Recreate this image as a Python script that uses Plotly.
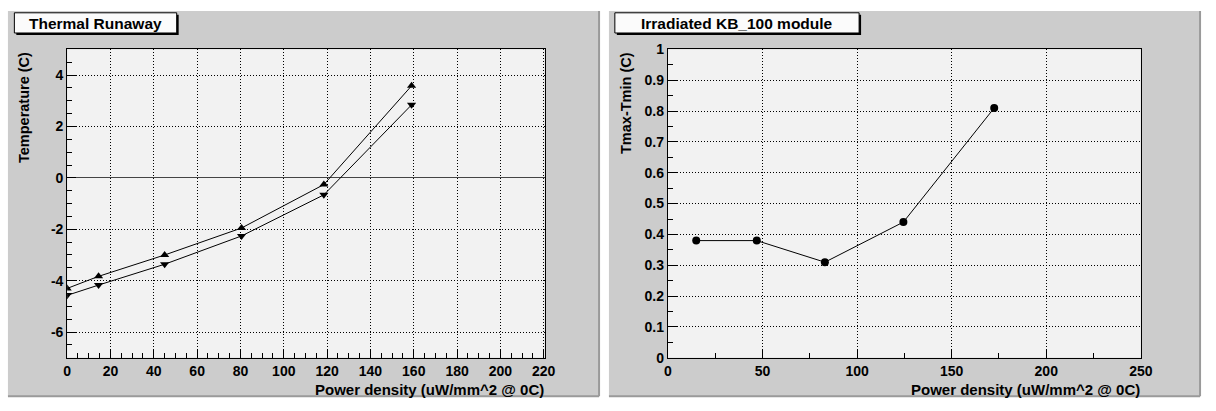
import plotly.graph_objects as go

# ---- data ----
power_left = [0, 14.5, 45, 80.5, 118.5, 159]
temp_up = [-4.3, -3.83, -3.0, -1.95, -0.26, 3.58]
temp_down = [-4.57, -4.17, -3.36, -2.26, -0.66, 2.84]

power_right = [15, 47, 83, 124.5, 172.5]
delta_t = [0.38, 0.38, 0.31, 0.44, 0.81]

xticks_left = [0, 20, 40, 60, 80, 100, 120, 140, 160, 180, 200, 220]
yticks_left = [-6, -4, -2, 0, 2, 4]
xticks_right = [0, 50, 100, 150, 200, 250]
yticks_right = [0, 0.1, 0.2, 0.3, 0.4, 0.5, 0.6, 0.7, 0.8, 0.9, 1]

title_left = "Thermal Runaway"
title_right = "Irradiated KB_100 module"
xlabel = "Power density (uW/mm^2 @ 0C)"
ylabel_left = "Temperature (C)"
ylabel_right = "Tmax-Tmin (C)"

W, H = 1216, 411
FONT = "Liberation Sans"


def px(x):
    return x / W


def py(y):
    return 1 - y / H


def lab(v):
    return "<b>" + ("%g" % v) + "</b>"


# plot areas in pixels
L = (64, 548)
R = (672.7, 1152)
TOP, BOT = 43, 364

fig = go.Figure()
fig.add_trace(go.Scatter(x=power_left, y=temp_up, mode="lines+markers",
                         line=dict(color="black", width=1),
                         marker=dict(symbol="triangle-up", size=8, color="black"),
                         xaxis="x", yaxis="y", showlegend=False))
fig.add_trace(go.Scatter(x=power_left, y=temp_down, mode="lines+markers",
                         line=dict(color="black", width=1),
                         marker=dict(symbol="triangle-down", size=8, color="black"),
                         xaxis="x", yaxis="y", showlegend=False))
fig.add_trace(go.Scatter(x=power_right, y=delta_t, mode="lines+markers",
                         line=dict(color="black", width=1),
                         marker=dict(symbol="circle", size=8, color="black"),
                         xaxis="x2", yaxis="y2", showlegend=False))

tickfont = dict(family=FONT, size=14, color="black")
common = dict(showgrid=True, gridcolor="black", griddash="1px,2px", gridwidth=1,
              showline=True, linecolor="black", linewidth=1, mirror=True,
              ticks="inside", tickcolor="black", tickfont=tickfont, ticklen=9,
              tickmode="array")

fig.update_layout(
    width=W, height=H,
    margin=dict(l=0, r=0, t=0, b=0),
    paper_bgcolor="white",
    plot_bgcolor="rgba(0,0,0,0)",
    xaxis=dict(domain=[px(L[0]), px(L[1])], range=[0, 220.5],
               tickvals=xticks_left, ticktext=[lab(v) for v in xticks_left],
               minor=dict(dtick=5, ticks="inside", ticklen=5, tickcolor="black", tickmode="linear", tick0=0),
               anchor="y", zeroline=False, **common),
    yaxis=dict(domain=[py(BOT), py(TOP)], range=[-7.0, 5.0],
               tickvals=yticks_left, ticktext=[lab(v) for v in yticks_left],
               minor=dict(dtick=0.5, ticks="inside", ticklen=5, tickcolor="black", tickmode="linear", tick0=0),
               anchor="x", zeroline=True, zerolinecolor="#444444", zerolinewidth=1, **common),
    xaxis2=dict(domain=[px(R[0]), px(R[1])], range=[0, 250],
                tickvals=xticks_right, ticktext=[lab(v) for v in xticks_right],
                minor=dict(dtick=25, ticks="inside", ticklen=5, tickcolor="black", tickmode="linear", tick0=0),
                anchor="y2", zeroline=False, **common),
    yaxis2=dict(domain=[py(BOT), py(TOP)], range=[0, 1],
                tickvals=yticks_right, ticktext=[lab(v) for v in yticks_right],
                minor=dict(dtick=0.05, ticks="inside", ticklen=5, tickcolor="black", tickmode="linear", tick0=0),
                anchor="x2", zeroline=False, **common),
)

shapes = []
# pads
for (x0, x1) in [(4, 603), (613, 1212)]:
    shapes.append(dict(type="rect", xref="paper", yref="paper", x0=px(x0), x1=px(x1),
                       y0=py(404), y1=py(3), fillcolor="#cccccc", line=dict(width=0), layer="below"))
    shapes.append(dict(type="line", xref="paper", yref="paper", x0=px(x1), x1=px(x1),
                       y0=py(404), y1=py(3), line=dict(color="#9a9a9a", width=2), layer="below"))
    shapes.append(dict(type="line", xref="paper", yref="paper", x0=px(x0), x1=px(x1),
                       y0=py(404), y1=py(404), line=dict(color="#9a9a9a", width=2), layer="below"))
# plot area backgrounds
for (x0, x1) in [L, R]:
    shapes.append(dict(type="rect", xref="paper", yref="paper", x0=px(x0), x1=px(x1),
                       y0=py(BOT), y1=py(TOP), fillcolor="#f2f2f2", line=dict(width=0), layer="below"))
# title boxes
for (x0, x1) in [(10.5, 175), (619, 866.5)]:
    shapes.append(dict(type="rect", xref="paper", yref="paper", x0=px(x0 + 2), x1=px(x1 + 2),
                       y0=py(28), y1=py(7), fillcolor="black", line=dict(width=0), layer="above"))
    shapes.append(dict(type="rect", xref="paper", yref="paper", x0=px(x0), x1=px(x1),
                       y0=py(26), y1=py(5), fillcolor="#fbfbfb", line=dict(color="black", width=1),
                       layer="above"))
fig.update_layout(shapes=shapes)


def bold(s):
    return "<b>" + s + "</b>"


ann = []
ann.append(dict(text=bold(title_left), x=px((10.5 + 175) / 2), y=py(16), xref="paper", yref="paper",
                showarrow=False, font=dict(family=FONT, size=15.5, color="black"),
                xanchor="center", yanchor="middle"))
ann.append(dict(text=bold(title_right), x=px((619 + 866.5) / 2), y=py(16), xref="paper", yref="paper",
                showarrow=False, font=dict(family=FONT, size=15.5, color="black"),
                xanchor="center", yanchor="middle"))
for xr in [L[1], R[1]]:
    ann.append(dict(text=bold(xlabel), x=px(xr + 1), y=py(397), xref="paper", yref="paper",
                    showarrow=False, font=dict(family=FONT, size=15, color="black"),
                    xanchor="right", yanchor="middle"))
for xl, labt in [(20.5, ylabel_left), (631, ylabel_right)]:
    ann.append(dict(text=bold(labt), x=px(xl), y=py(44), xref="paper", yref="paper", textangle=-90,
                    showarrow=False, font=dict(family=FONT, size=14.5, color="black"),
                    xanchor="center", yanchor="top"))
fig.update_layout(annotations=ann)

fig.write_html("out.html")
